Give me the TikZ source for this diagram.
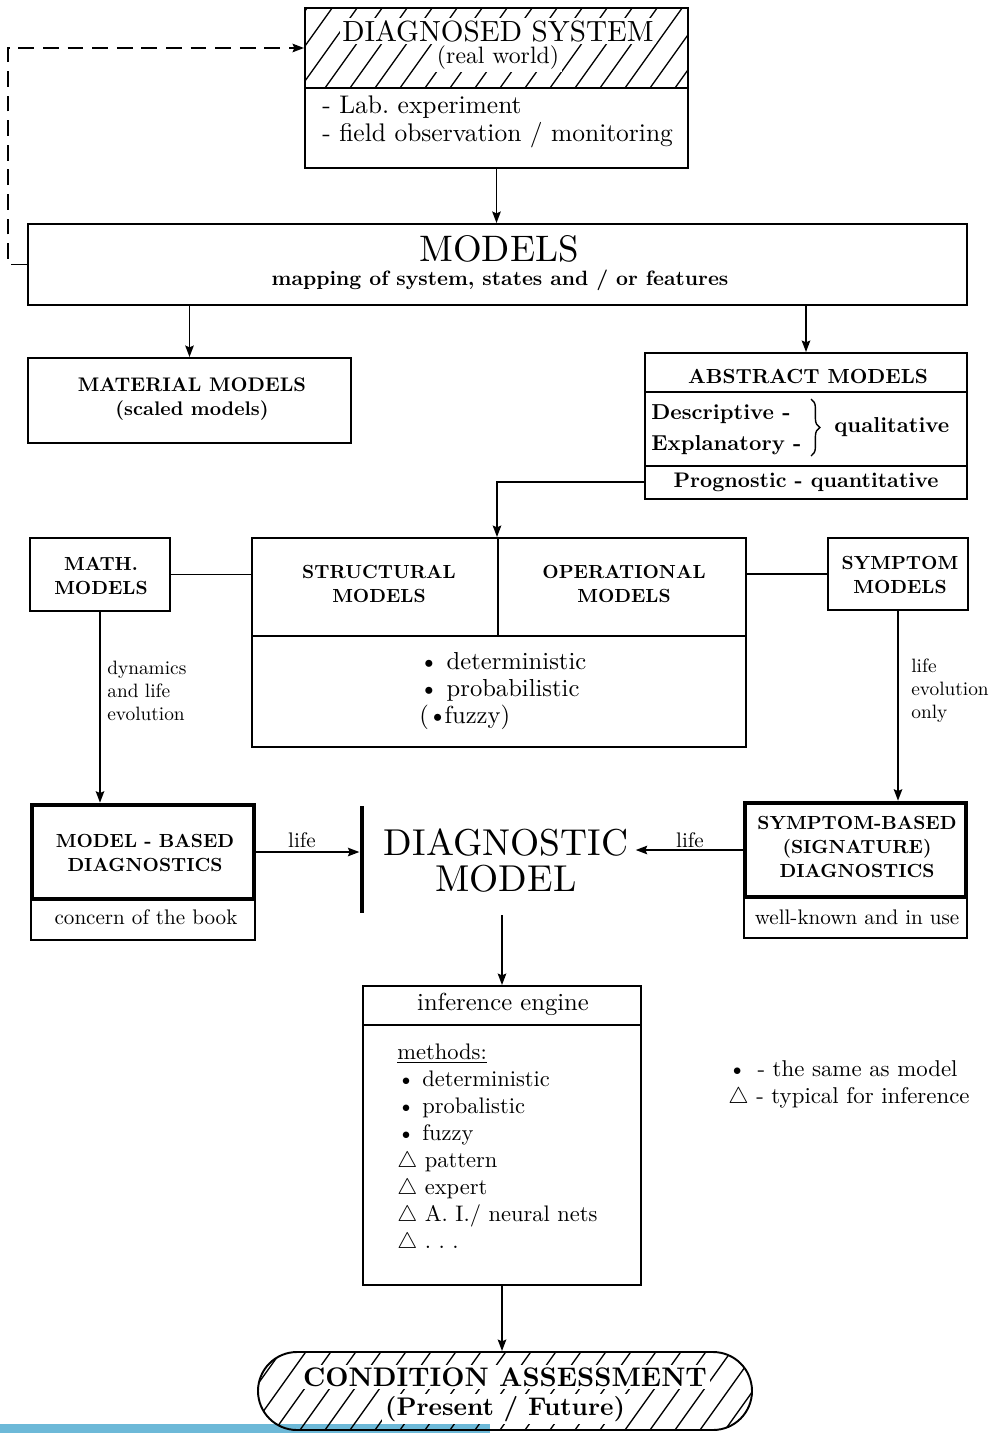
\RequirePackage{fix-cm}
\documentclass[tikz,border=0pt]{standalone}
\usepackage{fontspec}
\setmainfont{lmroman10-regular.otf}[BoldFont=lmroman10-bold.otf, ItalicFont=lmroman10-italic.otf]
\usetikzlibrary{arrows.meta,fit,decorations.pathreplacing}

\definecolor{stripblue}{RGB}{109,185,216}
\newcommand{\fsz}[2]{\fontsize{#1}{#2}\selectfont}
% diagonal hatching across a band from y=#1 to y=#2 (to be clipped)
\newcommand{\hatchband}[2]{%
  \pgfmathsetmacro{\hdx}{(#2-#1)/1.4}%
  \foreach \hx in {-300,-275,...,1100}{\draw[hatch] (\hx,#2) -- ++(\hdx,#1-#2);}%
}

\begin{document}
\begin{tikzpicture}[x=0.02cm,y=-0.02cm,
  frame/.style={draw, line width=1.1pt, inner sep=0pt},
  heavy/.style={draw, line width=2.6pt, inner sep=0pt},
  link/.style={line width=1.1pt},
  arr/.style={line width=1.1pt,-{Stealth[length=6.5pt,width=4.8pt,inset=1pt]}},
  hatch/.style={line width=0.75pt},
  txt/.style={inner sep=0pt, align=center},
  onhatch/.style={fill=white, inner sep=1.5pt, align=center},
  capsb/.style={txt, font=\bfseries\fsz{10.8}{12.5}},
]
\useasboundingbox (0,0) rectangle (1004,1433);

% strip along the lower edge
\fill[stripblue] (0,1424) rectangle (490,1433);

% ---------- diagnosed system ----------
\node[frame, fit={(305,8) (688,168)}] (diag) {};
\begin{scope}
  \clip (305,8) rectangle (688,88);
  \hatchband{8}{88}
\end{scope}
\draw[link] (diag.west |- 0,88) -- (diag.east |- 0,88);
\node[onhatch, font=\fsz{16.6}{19}] (dstitle) at (498,31) {DIAGNOSED SYSTEM};
\node[onhatch, font=\fsz{13.5}{16}] (dsworld) at (498,58) {(real world)};
\node[anchor=west, inner sep=0pt, font=\fsz{14.5}{17}] (dslab) at (322,107) {- Lab.\ experiment};
\node[anchor=west, inner sep=0pt, font=\fsz{14.5}{17}] (dsfield) at (322,135) {- field observation / monitoring};

% ---------- models ----------
\node[frame, fit={(28,224) (967,305)}] (models) {};
\node[txt, font=\fsz{21}{24}] (mtitle) at (499,249) {MODELS};
\node[txt, font=\bfseries\fsz{11.8}{14}] (msub) at (500,280) {mapping of system, states and / or features};

\draw[arr] (diag.south) -- (diag.south |- models.north);
\coordinate (fb) at (8,48);
\draw[line width=1.1pt, dash pattern=on 9pt off 5pt, -{Stealth[length=6.5pt,width=4.8pt,inset=1pt]}]
  (models.west) -| (fb) -- (fb -| diag.west);

% ---------- material models ----------
\node[frame, fit={(28,358) (351,443)}] (mat) {};
\node[txt, font=\bfseries\fsz{11.2}{13}] (mattitle) at (192,385) {MATERIAL MODELS};
\node[txt, font=\bfseries\fsz{11.2}{13}] (matsub) at (192,411) {(scaled models)};
\draw[arr] (mat.north |- models.south) -- (mat.north);

% ---------- abstract models ----------
\node[frame, fit={(645,353) (967,499)}] (abs) {};
\draw[link] (abs.west |- 0,392) -- (abs.east |- 0,392);
\draw[link] (abs.west |- 0,466) -- (abs.east |- 0,466);
\draw[arr] (abs.north |- models.south) -- (abs.north);
\node[txt, font=\bfseries\fsz{11.6}{13}] (abstitle) at (808,376) {ABSTRACT MODELS};
\node[anchor=west, inner sep=0pt, font=\bfseries\fsz{12.3}{14}] (desc) at (651,414) {Descriptive -};
\node[anchor=west, inner sep=0pt, font=\bfseries\fsz{12.3}{14}] (expl) at (651,445) {Explanatory -};
\draw[line width=0.8pt, decorate, decoration={brace, amplitude=5pt}] (811,399) -- (811,456);
\node[anchor=west, inner sep=0pt, font=\bfseries\fsz{12.3}{14}] (qual) at (834,427) {qualitative};
\node[txt, font=\bfseries\fsz{12}{14}] (prog) at (806,482) {Prognostic - quantitative};

% ---------- structural / operational ----------
\node[frame, fit={(252,538) (746,747)}] (sobox) {};
\draw[link] (498,0 |- sobox.north) -- (498,636);
\draw[link] (sobox.west |- 0,636) -- (sobox.east |- 0,636);
\draw[arr] (abs.west |- 0,482) -| (497,0 |- sobox.north);
\node[capsb] (struct) at (379,584) {STRUCTURAL\\[1pt]MODELS};
\node[capsb] (oper) at (624,584) {OPERATIONAL\\[1pt]MODELS};
\node[anchor=north west, align=left, inner sep=0pt, font=\fsz{14}{15.3}] (kinds) at (419,652)
  {\textbullet\ deterministic\\ \textbullet\ probabilistic\\ (\kern-0.5pt\textbullet\kern-1.5pt fuzzy)};

% ---------- math / symptom models ----------
\node[frame, fit={(30,538) (170,611)}] (math) {};
\node[capsb] (mathtxt) at (101,576) {MATH.\\[1pt]MODELS};
\draw[link] (math.east) -- (math.east -| sobox.west);

\node[frame, fit={(828,538) (968,610)}] (symp) {};
\node[capsb] (symptxt) at (900,575) {SYMPTOM\\[1pt]MODELS};
\draw[link] (symp.west -| sobox.east) -- (symp.west);

% ---------- diagnostics ----------
\node[heavy, fit={(32,805) (254,899)}] (mbtop) {};
\node[frame, fit={(31,899) (255,940)}] (mbbot) {};
\node[capsb] (mbtxt) at (145,853) {MODEL - BASED\\[1pt]DIAGNOSTICS};
\node[txt, font=\fsz{12}{14}] (mbnote) at (146,917) {concern of the book};
\draw[arr] (math.south) -- (math.south |- mbtop.north);
\node[anchor=north west, align=left, inner sep=0pt, font=\fsz{11}{13}] (mblab) at (107,661)
  {dynamics\\ and life\\ evolution};

\node[heavy, fit={(745,803) (966,897)}] (sbtop) {};
\node[frame, fit={(744,897) (967,938)}] (sbbot) {};
\node[capsb] (sbtxt) at (857,847) {SYMPTOM-BASED\\[1pt](SIGNATURE)\\[1pt]DIAGNOSTICS};
\node[txt, font=\fsz{12}{14}] (sbnote) at (857,917) {well-known and in use};
\draw[arr] (symp.south) -- (symp.south |- sbtop.north);
\node[anchor=north west, align=left, inner sep=0pt, font=\fsz{11}{13}] (sblab) at (911,659)
  {life\\ evolution\\ only};

% ---------- diagnostic model ----------
\node[fill=black, inner sep=0pt, minimum width=0.09cm, minimum height=2.14cm] (bar) at (362,859.5) {};
\node[txt, font=\fsz{21.3}{24}] (dmup) at (506,843) {DIAGNOSTIC};
\node[txt, font=\fsz{21.3}{24}] (dmlow) at (506,879) {MODEL};
\node[inner sep=0.14cm, fit=(dmup) (dmlow)] (dm) {};
\draw[arr] (mbtop.east) -- (mbtop.east -| bar.west);
\node[txt, font=\fsz{12}{14}] (lifel) at (302,840) {life};
\draw[arr] (sbtop.west) -- (sbtop.west -| dm.east);
\node[txt, font=\fsz{12}{14}] (lifer) at (690,840) {life};

% ---------- inference engine ----------
\node[frame, fit={(363,986) (641,1285)}] (inf) {};
\draw[link] (inf.west |- 0,1025) -- (inf.east |- 0,1025);
\coordinate (dmout) at ([yshift=-0.3cm]dm.south);
\draw[arr] (dmout -| inf.north) -- (inf.north);
\node[txt, font=\fsz{14}{16}] (inftitle) at (503,1004) {inference engine};
\node[anchor=north west, align=left, inner sep=0pt, font=\fsz{12.8}{15.3}] (methods) at (397,1044)
  {\underline{methods:}\\
   \textbullet\ deterministic\\
   \textbullet\ probalistic\\
   \textbullet\ fuzzy\\
   $\triangle$ pattern\\
   $\triangle$ expert\\
   $\triangle$ A. I./ neural nets\\
   $\triangle$ .\ .\ .};

\node[anchor=north west, align=left, inner sep=0pt, font=\fsz{13}{15.3}] (legend) at (728,1060)
  {\textbullet\ \,- the same as model\\ $\triangle$ - typical for inference};

% ---------- condition assessment ----------
\begin{scope}
  \clip[rounded corners=0.78cm] (258,1352) rectangle (752,1430);
  \hatchband{1352}{1430}
\end{scope}
\node[frame, rounded corners=0.78cm, fit={(258,1352) (752,1430)}] (ca) {};
\draw[arr] (inf.south) -- (inf.south |- ca.north);
\node[onhatch, font=\bfseries\fsz{15.3}{17}] (catitle) at (505,1377) {CONDITION ASSESSMENT};
\node[onhatch, font=\bfseries\fsz{14.5}{17}] (casub) at (505,1409) {(Present / Future)};

\end{tikzpicture}
\end{document}
